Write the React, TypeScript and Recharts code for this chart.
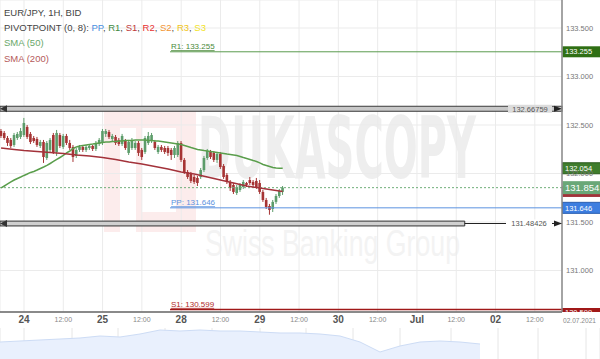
import React from 'react';
import {
  ComposedChart, Bar, Line, XAxis, YAxis, CartesianGrid, ReferenceLine, ReferenceArea,
  AreaChart, Area,
} from 'recharts';

const FONT = 'Arial, "Liberation Sans", Helvetica, sans-serif';

// ---- axes ----
const X_MIN = -7.33;
const X_MAX = 164.3;
const Y_MIN = 130.572;
const Y_MAX = 133.789;
const X_TICKS = [0, 12, 24, 36, 48, 60, 72, 84, 96, 108, 120, 132, 144, 156];
const DAY_LABELS = ['24', '25', '28', '29', '30', 'Jul', '02'];
const HALF_LABEL = '12:00';
const Y_TICKS = [131, 131.5, 132, 132.5, 133, 133.5];

// ---- levels ----
const R1 = 133.255;
const PP = 131.646;
const S1 = 130.599;
const LEVEL_HI = 132.66759;
const LEVEL_LO = 131.48426;
const LAST_PRICE = 131.854;
const SMA50_LAST = 132.054;
const SMA200_LAST = 131.815;
const PIVOT_START = 44.6;
const BOX_END = 134.6;

// ---- candles (hour index from 24 Jun 00:00, weekends skipped) ----
const START = -7;
const OPEN = [132.438, 132.418, 132.366, 132.346, 132.294, 132.366, 132.377, 132.397, 132.480, 132.408, 132.366, 132.356, 132.284, 132.325, 132.160, 132.243, 132.397, 132.222, 132.397, 132.274, 132.387, 132.315, 132.274, 132.181, 132.243, 132.274, 132.243, 132.263, 132.284, 132.253, 132.304, 132.315, 132.408, 132.428, 132.356, 132.377, 132.346, 132.304, 132.335, 132.212, 132.263, 132.263, 132.315, 132.243, 132.222, 132.315, 132.335, 132.325, 132.222, 132.274, 132.263, 132.263, 132.243, 132.191, 132.191, 132.315, 132.140, 132.016, 131.995, 131.964, 131.954, 131.964, 132.036, 132.160, 132.222, 132.212, 132.140, 132.201, 132.078, 131.985, 131.913, 131.882, 131.799, 131.830, 131.861, 131.902, 131.933, 131.913, 131.923, 131.902, 131.810, 131.727, 131.665, 131.634, 131.707, 131.768, 131.810];
const CLOSE = [132.387, 132.366, 132.315, 132.284, 132.397, 132.408, 132.438, 132.521, 132.377, 132.325, 132.335, 132.294, 132.325, 132.170, 132.315, 132.346, 132.222, 132.418, 132.284, 132.387, 132.315, 132.263, 132.170, 132.243, 132.274, 132.243, 132.274, 132.284, 132.253, 132.315, 132.346, 132.438, 132.438, 132.377, 132.387, 132.315, 132.304, 132.387, 132.263, 132.325, 132.346, 132.315, 132.212, 132.170, 132.366, 132.387, 132.397, 132.263, 132.274, 132.243, 132.222, 132.212, 132.191, 132.263, 132.315, 132.140, 132.016, 131.964, 131.923, 131.913, 131.902, 132.036, 132.160, 132.232, 132.170, 132.140, 132.201, 132.067, 131.964, 131.913, 131.851, 131.810, 131.861, 131.882, 131.913, 131.882, 131.902, 131.882, 131.861, 131.810, 131.727, 131.655, 131.624, 131.707, 131.768, 131.820, 131.854];
const HIGH = [132.459, 132.438, 132.387, 132.366, 132.418, 132.428, 132.469, 132.573, 132.500, 132.428, 132.387, 132.377, 132.346, 132.346, 132.335, 132.366, 132.418, 132.449, 132.418, 132.408, 132.408, 132.346, 132.294, 132.263, 132.294, 132.284, 132.294, 132.304, 132.294, 132.335, 132.366, 132.459, 132.459, 132.449, 132.408, 132.397, 132.366, 132.408, 132.356, 132.346, 132.366, 132.335, 132.335, 132.263, 132.387, 132.428, 132.418, 132.346, 132.294, 132.294, 132.284, 132.284, 132.263, 132.284, 132.335, 132.335, 132.160, 132.036, 132.016, 131.985, 131.975, 132.057, 132.181, 132.253, 132.243, 132.232, 132.222, 132.222, 132.098, 132.005, 131.933, 131.902, 131.882, 131.902, 131.933, 131.913, 131.964, 131.933, 131.954, 131.933, 131.830, 131.748, 131.686, 131.727, 131.789, 131.841, 131.871];
const LOW = [132.366, 132.346, 132.284, 132.263, 132.274, 132.346, 132.356, 132.377, 132.356, 132.304, 132.315, 132.274, 132.263, 132.109, 132.140, 132.212, 132.201, 132.181, 132.263, 132.253, 132.294, 132.243, 132.119, 132.160, 132.222, 132.222, 132.222, 132.243, 132.232, 132.232, 132.284, 132.294, 132.377, 132.356, 132.335, 132.294, 132.284, 132.284, 132.243, 132.191, 132.243, 132.243, 132.181, 132.140, 132.201, 132.294, 132.315, 132.243, 132.201, 132.222, 132.201, 132.181, 132.140, 132.160, 132.170, 132.119, 131.995, 131.944, 131.902, 131.892, 131.871, 131.944, 132.016, 132.140, 132.150, 132.119, 132.109, 132.047, 131.944, 131.892, 131.820, 131.789, 131.779, 131.810, 131.841, 131.861, 131.882, 131.861, 131.841, 131.789, 131.707, 131.634, 131.575, 131.603, 131.686, 131.748, 131.779];
const SMA50 = [131.851, 131.871, 131.892, 131.913, 131.933, 131.949, 131.964, 131.980, 131.995, 132.011, 132.021, 132.036, 132.052, 132.067, 132.083, 132.103, 132.124, 132.145, 132.165, 132.186, 132.212, 132.232, 132.258, 132.274, 132.284, 132.289, 132.294, 132.299, 132.304, 132.310, 132.315, 132.320, 132.325, 132.325, 132.330, 132.330, 132.335, 132.335, 132.341, 132.341, 132.341, 132.346, 132.346, 132.346, 132.346, 132.341, 132.341, 132.335, 132.335, 132.330, 132.325, 132.320, 132.315, 132.310, 132.304, 132.299, 132.289, 132.279, 132.268, 132.258, 132.248, 132.243, 132.237, 132.232, 132.227, 132.222, 132.217, 132.212, 132.207, 132.201, 132.196, 132.191, 132.186, 132.176, 132.165, 132.155, 132.145, 132.134, 132.124, 132.109, 132.093, 132.083, 132.073, 132.062, 132.057, 132.055, 132.054];
const SMA200_T = [-7, -3, 0, 4, 8, 12, 16, 20, 24, 28, 32, 36, 40, 44, 48, 52, 56, 60, 64, 68, 72, 76, 79];
const SMA200_V = [132.263, 132.248, 132.237, 132.227, 132.217, 132.207, 132.191, 132.181, 132.165, 132.145, 132.119, 132.098, 132.073, 132.047, 132.016, 131.995, 131.964, 131.933, 131.902, 131.871, 131.851, 131.830, 131.815];

// ---- navigator ----
const NAV_X = [0, 1, 2, 3, 4, 5, 6, 7, 8, 9, 10, 11, 12, 13, 14, 15, 16, 17, 18, 19, 20, 21, 22, 23, 24];
const NAV_V = [131.877, 131.929, 131.981, 132.032, 132.084, 132.187, 132.135, 132.290, 132.497, 132.445, 132.497, 132.445, 132.445, 132.394, 132.342, 132.342, 132.290, 132.187, 131.877, 131.361, 131.671, 131.877, 131.929, 131.877, 131.774];
const NAV_TICKS = [1.2, 2.4, 3.6, 4.75, 5.9, 7.1, 8.25, 9.4, 10.6, 11.85, 13.0, 14.15, 15.3, 16.5, 17.65, 18.8, 20.0, 21.4, 22.55, 23.7, 24.9, 26.05, 26.9, 28.1, 29.3];

const GREEN = '#5c9c6a';
const RED = '#a63434';

const sma200Map = new Map<number, number>();
SMA200_T.forEach((t, k) => sma200Map.set(t, SMA200_V[k]));

const data = OPEN.map((o, k) => ({
  t: START + k,
  open: o,
  close: CLOSE[k],
  high: HIGH[k],
  low: LOW[k],
  range: [LOW[k], HIGH[k]],
  sma50: SMA50[k],
  sma200: sma200Map.has(START + k) ? sma200Map.get(START + k) : null,
}));

const navData = NAV_X.map((x, k) => ({ x, v: NAV_V[k] }));

const Candle = (props: any) => {
  const { x, y, width, height, payload } = props;
  if (!payload) return null;
  const { open, close, high, low } = payload;
  const top = height < 0 ? y + height : y;
  const h = Math.abs(height);
  const up = close >= open;
  const color = up ? GREEN : RED;
  const ratio = h / (high - low || 1);
  const cx = x + width / 2;
  const bodyTop = top + (high - Math.max(open, close)) * ratio;
  const bodyH = Math.max(1, Math.abs(open - close) * ratio);
  return (
    <g>
      <line x1={cx} x2={cx} y1={top} y2={top + h} stroke={color} strokeWidth={1} />
      <rect x={cx - 1.3} y={bodyTop} width={2.6} height={bodyH} fill={color} />
    </g>
  );
};

const vbox = (vb: any) => {
  const x = vb.x ?? Math.min(vb.x1, vb.x2);
  const y = vb.y ?? vb.y1;
  const w = vb.width ?? Math.abs(vb.x2 - vb.x1);
  return { x, y, w };
};

const Tag = (props: any) => {
  const { viewBox, fill, text, h = 11, fs = 7.5, stroke = 'none', clip } = props;
  const { x, y, w } = vbox(viewBox);
  const left = x + w;
  if (clip) {
    return (
      <g>
        <defs>
          <clipPath id="s1clip">
            <rect x={left} y={y - 1.5} width={40} height={4} />
          </clipPath>
        </defs>
        <g clipPath="url(#s1clip)">
          <rect x={left} y={y - 1.5} width={38} height={h} fill={fill} />
          <text x={left + 3} y={y + 6} fill="#fff" fontSize={fs} fontFamily={FONT}>{text}</text>
        </g>
      </g>
    );
  }
  return (
    <g>
      <rect x={left + 0.5} y={y - h / 2} width={38} height={h} fill={fill} stroke={stroke} strokeWidth={1} />
      <text x={left + 3} y={y + fs * 0.36} fill="#fff" fontSize={fs} fontFamily={FONT}>{text}</text>
    </g>
  );
};

const StartLabel = (props: any) => {
  const { viewBox, text, color } = props;
  const { x, y } = vbox(viewBox);
  return (
    <text x={x + 1} y={y - 2.5} fill={color} fontSize={8} fontFamily={FONT} textDecoration="underline">{text}</text>
  );
};

const BandLabel = (props: any) => {
  const { viewBox, text, band } = props;
  const { x, y, w } = vbox(viewBox);
  const right = x + w;
  return (
    <g>
      {band && (
        <g>
          <rect x={x} y={y - 2.5} width={w} height={5} fill="#c8c8c8" stroke="#3a3a3a" strokeWidth={1} />
          <polygon points={`${x},${y} ${x + 7},${y - 3.5} ${x + 7},${y + 3.5}`} fill="#333" />
        </g>
      )}
      <rect x={right - 54} y={y - 4} width={44} height={8} fill="#dcdcdc" />
      <text x={right - 32} y={y + 2.8} textAnchor="middle" fill="#555" fontSize={7.5} fontFamily={FONT}>{text}</text>
      <polygon points={`${right},${y} ${right - 8},${y - 3} ${right - 8},${y + 3}`} fill="#222" />
    </g>
  );
};

const LowBoxLabel = (props: any) => {
  const { viewBox, text } = props;
  const { x, y, w } = vbox(viewBox);
  const right = x + w;
  return (
    <g>
      <rect x={right - 56} y={y - 4} width={46} height={8} fill="#ffffff" />
      <text x={right - 33} y={y + 2.8} textAnchor="middle" fill="#555" fontSize={7.5} fontFamily={FONT}>{text}</text>
      <polygon points={`${right},${y} ${right - 8},${y - 3} ${right - 8},${y + 3}`} fill="#222" />
    </g>
  );
};

const LeftArrow = (props: any) => {
  const { viewBox } = props;
  const { x, y } = vbox(viewBox);
  return <polygon points={`${x},${y} ${x + 7},${y - 3.5} ${x + 7},${y + 3.5}`} fill="#333" />;
};

const XTick = (props: any) => {
  const { x, y, payload } = props;
  const v = payload.value;
  if (v % 24 === 0) {
    return (
      <text x={x} y={y + 11} textAnchor="middle" fontSize={10} fontWeight="bold" fill="#555" fontFamily={FONT}>
        {DAY_LABELS[v / 24]}
      </text>
    );
  }
  return (
    <text x={x} y={y + 10} textAnchor="middle" fontSize={7} fill="#888" fontFamily={FONT}>{HALF_LABEL}</text>
  );
};

const Watermark = () => (
  <svg width={600} height={328} style={{ position: 'absolute', left: 0, top: 0 }}>
    <rect x={104} y={108} width={92} height={124} fill="#fcecec" />
    <rect x={120} y={128} width={16} height={104} fill="#ffffff" />
    <rect x={142} y={128} width={34} height={84} fill="#ffffff" />
    <text x={198} y={178} fontSize={86} fontWeight="bold" fill="#eeeeee" fontFamily='"DejaVu Sans", sans-serif' textLength={278} lengthAdjust="spacingAndGlyphs">DUKASCOPY</text>
    <text x={205} y={256} fontSize={36} fill="#f3f3f3" fontFamily={FONT} textLength={255} lengthAdjust="spacingAndGlyphs">Swiss Banking Group</text>
  </svg>
);

const Overlay = () => (
  <svg width={600} height={359} style={{ position: 'absolute', left: 0, top: 0, pointerEvents: 'none' }} fontFamily={FONT}>
    <text x={4} y={16} fontSize={9.5} fill="#444">EUR/JPY, 1H, BID</text>
    <text x={4} y={31} fontSize={9.5} fill="#444">
      PIVOTPOINT (0, 8):{' '}
      <tspan fill="#4a8fe0">PP</tspan>, <tspan fill="#3f8a3f">R1</tspan>, <tspan fill="#c03a3a">S1</tspan>,{' '}
      <tspan fill="#e83030">R2</tspan>, <tspan fill="#f2922e">S2</tspan>, <tspan fill="#f0c419">R3</tspan>,{' '}
      <tspan fill="#f2e21e">S3</tspan>
    </text>
    <text x={4} y={46} fontSize={9.5} fill="#6aa86a">SMA (50)</text>
    <text x={4} y={62} fontSize={9.5} fill="#b55a5a">SMA (200)</text>
    <text x={563} y={323} fontSize={6.6} fill="#888">02.07.2021</text>
  </svg>
);

export default function App() {
  return (
    <div style={{ position: 'absolute', left: 0, top: 0, width: 600, height: 359, background: '#fff', fontFamily: FONT, overflow: 'hidden' }}>
      <Watermark />
      <div style={{ position: 'absolute', left: 0, top: 0 }}>
        <ComposedChart width={600} height={328} data={data} margin={{ top: 0, right: 0, bottom: 0, left: 0 }}>
          <CartesianGrid stroke="#ebebeb" strokeWidth={1} />
          <XAxis
            type="number"
            dataKey="t"
            domain={[X_MIN, X_MAX]}
            ticks={X_TICKS}
            allowDataOverflow
            height={16}
            tickLine={false}
            tickSize={0}
            tickMargin={0}
            axisLine={{ stroke: '#666', strokeWidth: 1.5 }}
            tick={<XTick />}
            interval={0}
          />
          <YAxis
            orientation="right"
            domain={[Y_MIN, Y_MAX]}
            ticks={Y_TICKS}
            allowDataOverflow
            width={38}
            tickLine={false}
            tickSize={0}
            tickMargin={4}
            axisLine={{ stroke: '#888', strokeWidth: 1.5 }}
            tick={{ fontSize: 7.5, fill: '#777', fontFamily: FONT, textAnchor: 'start' }}
            tickFormatter={(v: number) => v.toFixed(3)}
            interval={0}
          />
          <ReferenceArea x1={X_MIN} x2={BOX_END} y1={LEVEL_LO - 0.025} y2={LEVEL_LO + 0.025} fill="#d0d0d0" fillOpacity={1} stroke="#333" strokeWidth={1} ifOverflow="extendDomain" />
          <ReferenceLine segment={[{ x: X_MIN, y: LEVEL_LO }, { x: X_MAX, y: LEVEL_LO }]} stroke="none" label={<LeftArrow />} />
          <ReferenceLine segment={[{ x: BOX_END, y: LEVEL_LO }, { x: X_MAX, y: LEVEL_LO }]} stroke="#222" strokeWidth={1.2} label={<LowBoxLabel text="131.48426" />} />
          <ReferenceLine y={LEVEL_HI} stroke="none" label={<BandLabel text="132.66759" band />} />
          <ReferenceLine y={LAST_PRICE} stroke="#6fae78" strokeDasharray="2 2" strokeWidth={1} />
          <ReferenceLine segment={[{ x: PIVOT_START, y: R1 }, { x: X_MAX, y: R1 }]} stroke="#5b9b4e" strokeWidth={1} label={<StartLabel text="R1: 133.255" color="#4a8a3a" />} />
          <ReferenceLine segment={[{ x: PIVOT_START, y: PP }, { x: X_MAX, y: PP }]} stroke="#5b93e0" strokeWidth={1} label={<StartLabel text="PP: 131.646" color="#5b93e0" />} />
          <ReferenceLine segment={[{ x: PIVOT_START, y: S1 }, { x: X_MAX, y: S1 }]} stroke="#a01818" strokeWidth={1.5} label={<StartLabel text="S1: 130.599" color="#b02a2a" />} />
          <Bar dataKey="range" barSize={3} shape={<Candle />} isAnimationActive={false} />
          <Line dataKey="sma50" stroke="#5a9e4c" strokeWidth={1.5} dot={false} activeDot={false} isAnimationActive={false} />
          <Line dataKey="sma200" stroke="#a3323a" strokeWidth={1.5} dot={false} activeDot={false} connectNulls isAnimationActive={false} />
          <ReferenceLine y={R1} stroke="none" label={<Tag fill="#2f6f14" text="133.255" />} />
          <ReferenceLine y={SMA200_LAST} stroke="none" label={<Tag fill="#a3323a" text="131.815" />} />
          <ReferenceLine y={SMA50_LAST} stroke="none" label={<Tag fill="#3f7d2c" stroke="#2a5a1c" text="132.054" />} />
          <ReferenceLine y={LAST_PRICE} stroke="none" label={<Tag fill="#6aa878" text="131.854" h={13} fs={9.5} />} />
          <ReferenceLine y={PP} stroke="none" label={<Tag fill="#3d7ee0" stroke="#2a5fb0" text="131.646" />} />
          <ReferenceLine y={S1} stroke="none" label={<Tag fill="#a01818" text="130.599" clip />} />
        </ComposedChart>
      </div>
      <div style={{ position: 'absolute', left: 0, top: 328 }}>
        <AreaChart width={600} height={31} data={navData} margin={{ top: 0, right: 0, bottom: 0, left: 0 }}>
          <CartesianGrid stroke="#e6e6e6" horizontal={false} />
          <XAxis type="number" dataKey="x" domain={[0, 30]} ticks={NAV_TICKS} hide />
          <YAxis domain={[131.0, 132.6]} hide />
          <Area dataKey="v" stroke="#cddcf5" strokeWidth={1} fill="#e9f0fd" fillOpacity={1} activeDot={false} isAnimationActive={false} />
        </AreaChart>
      </div>
      <Overlay />
    </div>
  );
}
